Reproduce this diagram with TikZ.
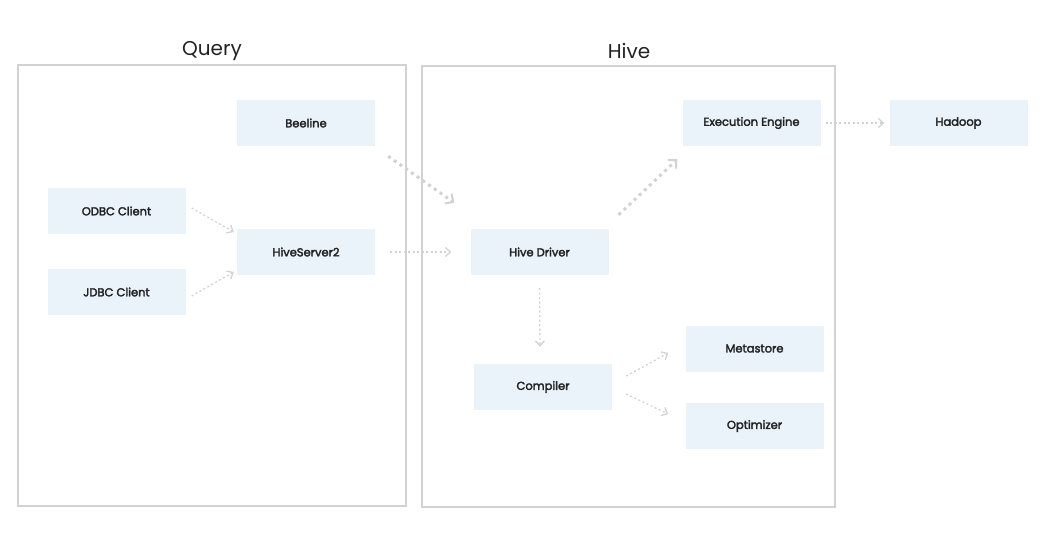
\documentclass[tikz,border=0pt]{standalone}
\usepackage{fontspec}
\setmainfont{Poppins}
\newfontfamily\labelfont{Poppins}[FakeBold=2.6]
\usetikzlibrary{arrows.meta}
\definecolor{boxfill}{HTML}{EAF2FA}
\definecolor{linegray}{HTML}{D2D2D2}
\definecolor{textdark}{HTML}{222222}
\tikzset{
  comp/.style={fill=boxfill, minimum width=138pt, minimum height=46pt, inner sep=0pt,
    font=\labelfont\fontsize{11.5}{13}\selectfont, text=textdark},
  frame/.style={draw=linegray, line width=2pt},
  title/.style={font=\fontsize{20}{22}\selectfont, text=textdark},
  thinflow/.style={draw=linegray, line width=1.3pt, dash pattern=on 2pt off 2.5pt,
    -{Straight Barb[length=5pt,width=9pt,line width=1.3pt]}},
  thickflow/.style={draw=linegray, line width=3pt, dash pattern=on 3pt off 4pt,
    -{Straight Barb[length=6pt,width=12pt,line width=2pt]}}
}
\begin{document}
\begin{tikzpicture}[x=1pt,y=-1pt]
  \useasboundingbox (0,0) rectangle (1046,544);
  % frames
  \draw[frame] (18,65) rectangle (406,506);
  \draw[frame] (422,66) rectangle (835,507);
  \node[title] (querytitle) at (212,51) {Query};
  \node[title] (hivetitle) at (629,51) {Hive};
  % query side
  \node[comp] (beeline) at (306,123) {Beeline};
  \node[comp] (odbc) at (116.5,211) {ODBC Client};
  \node[comp] (jdbc) at (116.5,292) {JDBC Client};
  \node[comp] (hs2) at (306,252) {HiveServer2};
  % hive side
  \node[comp] (driver) at (539.5,252) {Hive Driver};
  \node[comp] (exec) at (751.5,123) {Execution Engine};
  \node[comp] (compiler) at (543,387) {Compiler};
  \node[comp] (meta) at (754.5,348.5) {Metastore};
  \node[comp] (opt) at (754.5,426) {Optimizer};
  \node[comp] (hadoop) at (958.5,123) {Hadoop};
  % flows
  \draw[thinflow] ([xshift=6pt,yshift=3pt]odbc.east) -- ([xshift=-3pt,yshift=20pt]hs2.west);
  \draw[thinflow] ([xshift=6pt,yshift=-4pt]jdbc.east) -- ([xshift=-3pt,yshift=-20pt]hs2.west);
  \draw[thinflow] ([xshift=15pt]hs2.east) -- ([xshift=-19pt]driver.west);
  \draw[thickflow] ([xshift=13pt,yshift=-10pt]beeline.south east) -- ([xshift=-16pt,yshift=26pt]driver.north west);
  \draw[thickflow] ([xshift=10pt,yshift=14pt]driver.north east) -- ([xshift=-5pt,yshift=-13pt]exec.south west);
  \draw[thinflow] ([xshift=5pt]exec.east) -- ([xshift=-5pt]hadoop.west);
  \draw[thinflow] ([yshift=-13pt]driver.south) -- ([xshift=-3pt,yshift=17pt]compiler.north);
  \draw[thinflow] ([xshift=14pt,yshift=11pt]compiler.east) -- ([xshift=-17pt,yshift=-4.5pt]meta.west);
  \draw[thinflow] ([xshift=14pt,yshift=-7pt]compiler.east) -- ([xshift=-17pt,yshift=12pt]opt.west);
\end{tikzpicture}
\end{document}
